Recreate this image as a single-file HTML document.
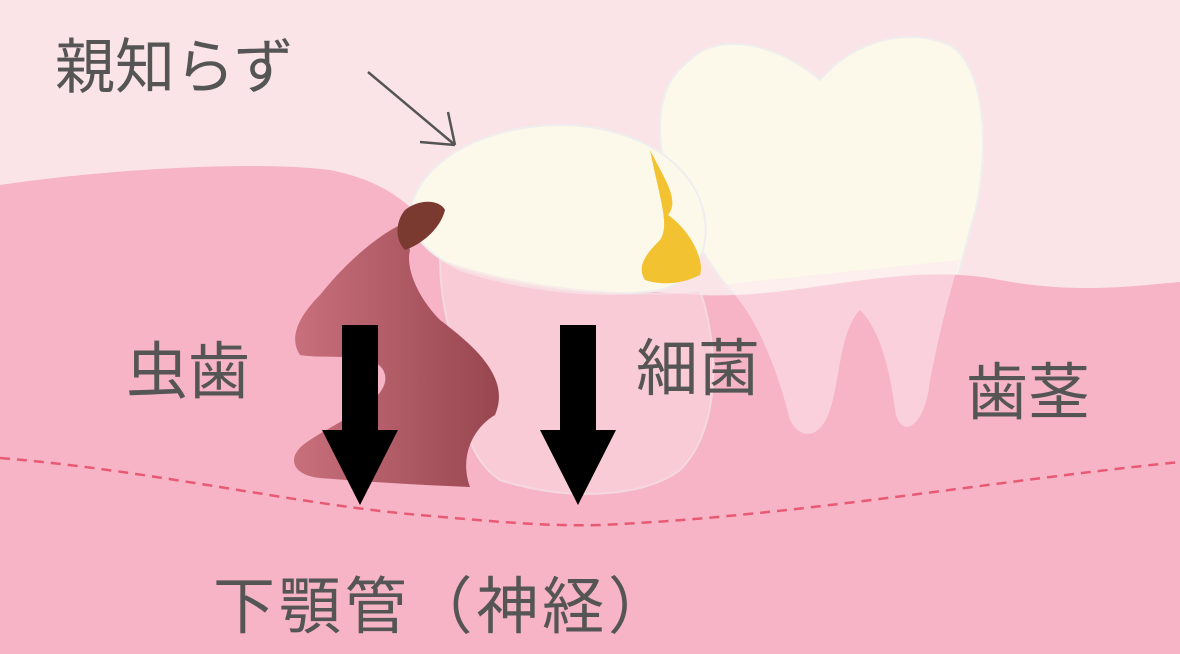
<!DOCTYPE html>
<html><head><meta charset="utf-8"><style>
html,body{margin:0;padding:0;width:1180px;height:654px;overflow:hidden;background:#fbe4e8}
svg{display:block}
text{font-family:"Liberation Sans","Noto Sans CJK JP",sans-serif;fill:#555}
</style></head><body>
<svg width="1180" height="654" viewBox="0 0 1180 654">
<defs><linearGradient id="dg" x1="0" x2="1" y1="0" y2="0"><stop offset="0" stop-color="#c8707c"/><stop offset="1" stop-color="#984650"/></linearGradient></defs>
<rect width="1180" height="654" fill="#fbe4e8"/>
<path d="M690 60 C720 30 780 45 820 80 C850 45 900 25 950 45 C990 70 990 170 970 230 C955 290 940 330 930 380 C925 430 900 440 895 410 C890 370 880 330 860 310 C840 330 840 380 830 410 C820 440 800 440 790 420 C780 380 760 320 730 290 C690 240 660 180 660 130 C660 95 670 75 690 60 Z" fill="#fcf8ea" stroke="#eee" stroke-width="2"/>
<path d="M0 185 C100 170 250 160 330 170 C380 180 410 200 440 240 C500 270 600 290 700 295 C800 300 900 260 1000 280 C1080 295 1140 285 1180 282 L1180 654 L0 654 Z" fill="#f6b4c6"/>
<path d="M730 290 C760 320 780 380 790 420 C800 440 820 440 830 410 C840 380 840 330 860 310 C880 330 890 370 895 410 C900 440 925 430 930 380 C940 330 950 290 960 260 L720 285 Z" fill="#fde8ee" opacity="0.55"/>
<path d="M415 195 C435 150 500 125 560 125 C620 125 680 150 700 200 C715 240 700 280 660 290 C600 300 520 290 460 270 C420 250 400 225 415 195 Z" fill="#fcf8ea" stroke="#eee" stroke-width="2"/>
<path d="M440 260 C520 290 640 300 700 290 C720 350 720 430 680 470 C640 500 560 500 500 480 C470 460 460 420 470 400 C450 340 440 300 440 260 Z" fill="#fbd6df" opacity="0.7" stroke="#f4e8ea" stroke-width="2"/>
<path d="M400 225 C370 240 340 270 320 295 C295 320 290 340 300 355 C330 360 380 350 385 375 C390 400 340 420 310 440 C285 455 290 475 320 478 C370 482 420 485 470 487 C460 460 470 430 495 415 C510 380 480 350 440 320 C420 300 405 270 410 250 Z" fill="url(#dg)"/>
<path d="M405 210 C420 198 440 200 445 210 C440 230 420 245 405 250 C395 240 395 222 405 210 Z" fill="#7a3a30"/>
<path d="M650 150 C665 180 680 200 668 215 C690 230 705 260 700 275 C680 285 660 285 645 280 C635 265 650 250 660 240 C670 225 660 200 650 150 Z" fill="#f2c230"/>
<path d="M0 458 C150 470 300 505 420 515 C500 522 560 528 620 524 C800 515 1000 480 1180 462" fill="none" stroke="#e85a74" stroke-width="2.5" stroke-dasharray="10 7"/>
<path d="M342 325 H378 V430 H398 L360 505 L322 430 H342 Z" fill="#000"/>
<path d="M560 325 H596 V430 H616 L578 505 L540 430 H560 Z" fill="#000"/>
<path d="M368 72 L455 145 M455 145 L420 142 M455 145 L448 112" stroke="#555" stroke-width="2.5" fill="none"/>
<text x="55" y="88" font-size="60">親知らず</text>
<text x="126" y="393" font-size="62">虫歯</text>
<text x="636" y="390" font-size="62">細菌</text>
<text x="966" y="414" font-size="62">歯茎</text>
<text x="213" y="628" font-size="62" textLength="457" lengthAdjust="spacing">下顎管（神経）</text>
</svg>
</body></html>
